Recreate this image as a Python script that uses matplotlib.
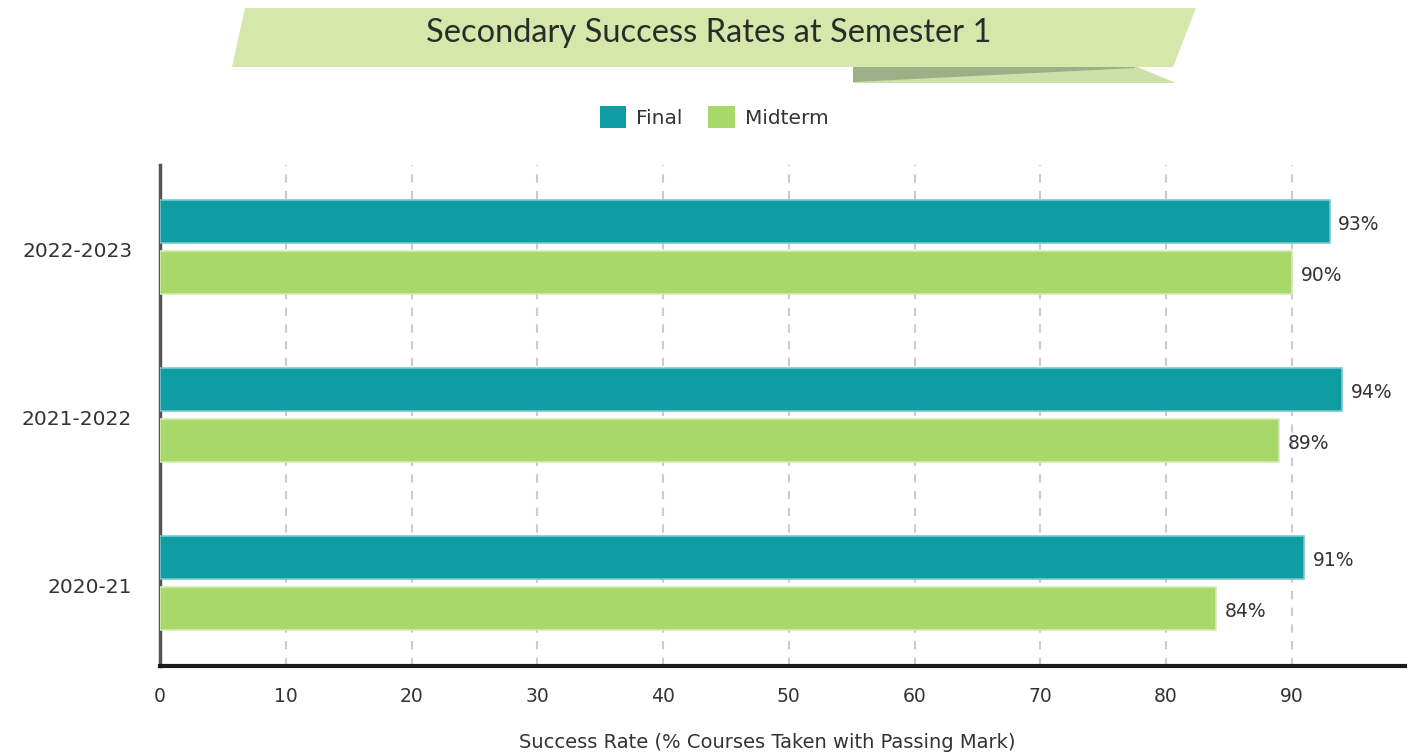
import matplotlib
matplotlib.use("Agg")
import matplotlib.pyplot as plt
import numpy as np
from matplotlib.patches import Polygon, Patch

categories = ["2020-21", "2021-2022", "2022-2023"]
final_vals = [91, 94, 93]
midterm_vals = [84, 89, 90]
series_names = ["Final", "Midterm"]
xticks = [0, 10, 20, 30, 40, 50, 60, 70, 80, 90]

FINAL_C = "#0F9CA2"
MID_C = "#A8D86A"
TXT = "#333333"
FONT = "DejaVu Sans"
TFONT = "Lato"
FS = 13.5

W, H = 1409, 755
fig = plt.figure(figsize=(W / 100, H / 100), dpi=100)

def fp(x, y):
    return (x / W, 1 - y / H)

# title banner with folded ribbon underneath
fold_light = Polygon([fp(853, 66), fp(1135, 66), fp(1176, 83), fp(853, 83)],
                     closed=True, transform=fig.transFigure, facecolor="#CCE0AA", edgecolor="none", zorder=1)
fig.patches.append(fold_light)
fold_dark = Polygon([fp(853, 66), fp(1135, 66), fp(1135, 68), fp(853, 82)],
                    closed=True, transform=fig.transFigure, facecolor="#9DAF86", edgecolor="none", zorder=1)
fig.patches.append(fold_dark)
banner = Polygon([fp(245, 8), fp(1196, 8), fp(1173, 67), fp(232, 67)],
                 closed=True, transform=fig.transFigure, facecolor="#D5E7AA", edgecolor="none", zorder=2)
fig.patches.append(banner)
fig.text(709 / W, 1 - 33 / H, "Secondary Success Rates at Semester 1", ha="center", va="center",
         fontsize=23.5, color="#2b2b2b", family=TFONT, zorder=3)

ax = fig.add_axes([160 / W, 1 - 666 / H, (1405 - 160) / W, (666 - 165) / H])
y = np.arange(len(categories))
h = 0.256
off = 0.152
ax.barh(y + off, final_vals, height=h, color=FINAL_C, edgecolor="#7CC7CB", linewidth=1.2, zorder=3)
ax.barh(y - off, midterm_vals, height=h, color=MID_C, edgecolor="#D4EBB5", linewidth=1.2, zorder=3)

for yi, v in zip(y, final_vals):
    ax.text(v + 0.7, yi + off - 0.02, f"{v}%", va="center", ha="left", fontsize=FS, color=TXT, family=FONT)
for yi, v in zip(y, midterm_vals):
    ax.text(v + 0.7, yi - off - 0.02, f"{v}%", va="center", ha="left", fontsize=FS, color=TXT, family=FONT)

ax.set_xlim(0, 99)
ax.set_ylim(-0.494, 2.488)
ax.set_xticks(xticks)
ax.set_xticklabels([str(t) for t in xticks], family=FONT, fontsize=FS, color=TXT)
ax.set_yticks(y - 0.015)
ax.set_yticklabels(categories, family=FONT, fontsize=14.5, color=TXT)
ax.tick_params(axis="x", length=0, pad=15)
ax.tick_params(axis="y", length=0, pad=20)

for t in xticks[1:]:
    ax.axvline(t, color="#cccccc", linewidth=1.5, linestyle=(0, (4, 4)), zorder=1)

for s in ["top", "right"]:
    ax.spines[s].set_visible(False)
ax.spines["left"].set_color("#555555")
ax.spines["left"].set_linewidth(2.5)
ax.spines["bottom"].set_color("#1a1a1a")
ax.spines["bottom"].set_linewidth(3)

ax.set_xlabel("Success Rate (% Courses Taken with Passing Mark)", family=FONT, fontsize=14, color=TXT)
ax.xaxis.set_label_coords((767 - 160) / 1245, (666 - 742) / 501)
ax.xaxis.label.set_va("center")

handles = [Patch(facecolor=FINAL_C, edgecolor="none"), Patch(facecolor=MID_C, edgecolor="none")]
fig.legend(handles, series_names, loc="center", bbox_to_anchor=(714 / W, 1 - 117 / H), ncol=2,
           frameon=False, handlelength=1.3, handleheight=1.3, handletextpad=0.5, columnspacing=1.3,
           prop={"family": FONT, "size": 14.5}, labelcolor=TXT)

fig.savefig("out.png", dpi=100)
